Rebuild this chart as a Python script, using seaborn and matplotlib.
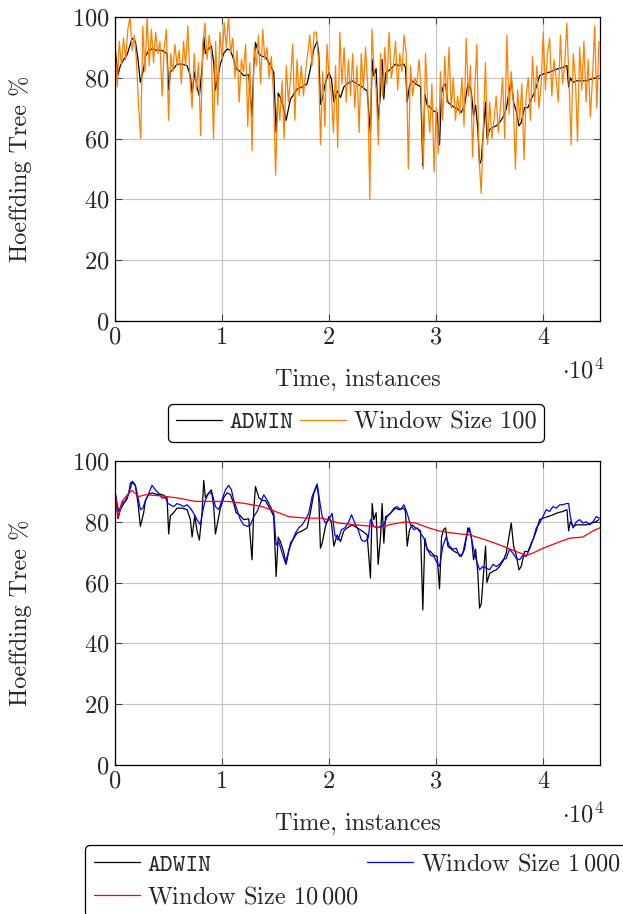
import numpy as np
import pandas as pd
import matplotlib
matplotlib.use("Agg")
import matplotlib.pyplot as plt
import seaborn as sns

# ADWIN accuracy (same curve in both panels)
adwin_t = [0, 280, 500, 810, 1120, 1430, 1590, 1900, 2150, 2370, 2680, 2835, 3150, 3460, 3925, 4390,
           4860, 5015, 5170, 5480, 5790, 6260, 6730, 7040, 7200, 7450, 7660, 7880, 8130, 8290, 8440,
           8750, 9000, 9220, 9380, 9630, 9840, 10160, 10470, 10780, 11090, 11310, 11710, 12020, 12490,
           12800, 12960, 13120, 13430, 13740, 14050, 14360, 14670, 14830, 15050, 15240, 15450, 15760,
           15980, 16390, 16700, 17010, 17480, 17940, 18250, 18570, 18880, 19030, 19190, 19350, 19660,
           19970, 20220, 20440, 20750, 21060, 21370, 21680, 22140, 22610, 23080, 23550, 23860, 24020,
           24170, 24390, 24580, 24800, 24950, 25110, 25270, 25570, 25890, 26200, 26510, 26980, 27130,
           27290, 27510, 27750, 28070, 28380, 28540, 28750, 28940, 29160, 29470, 29780, 30090, 30310,
           30500, 30680, 30870, 31090, 31400, 31710, 32020, 32340, 32650, 32960, 33120, 33270, 33490,
           33680, 33890, 34050, 34210, 34360, 34610, 34740, 34990, 35300, 35610, 35920, 36230, 36540,
           36790, 37010, 37230, 37480, 37730, 37940, 38250, 38570, 38880, 39100, 39350, 39660, 39970,
           40440, 40900, 41370, 41840, 42210, 42370, 42530, 42780, 43090, 43560, 44020, 44490, 44890,
           45200]
adwin_v = [90, 81, 84, 86, 87.5, 91, 93, 92, 86, 78.5, 83, 87, 89, 89.5, 89, 89,
           88, 76, 82, 83, 84.5, 84.5, 84, 80.7, 75, 82, 77, 74, 83, 93.6, 88,
           89.5, 90.5, 85, 76, 80.7, 84.5, 88, 89.5, 89, 86, 83, 82, 80.7, 81,
           67.5, 84, 91.6, 88, 87, 87, 85, 83, 81.7, 62, 75, 73.5, 70,
           66, 73, 74.6, 76.3, 77, 78, 83, 89.4, 92, 88, 71.3, 73, 78.5,
           81.7, 79.6, 72, 75.7, 73.5, 77, 78, 79, 78, 77, 75.7, 61.5, 86,
           80.7, 83, 66, 75, 86, 73, 81.7, 82.3, 83.4, 84.5, 84, 84.5, 83.4,
           72, 77.4, 79, 78, 77.4, 77, 51, 74.6, 71, 70.2, 69, 68.6, 58,
           75, 77.4, 78, 72, 71, 70.2, 69.7, 68.6, 71, 78, 77, 75.7, 67.5,
           71, 63, 51.6, 53, 60, 72, 60, 63, 63.7, 64.2, 65.3, 67, 69.7,
           75, 79.6, 72, 69, 64.2, 65.3, 70.2, 70.2, 73, 74.6, 77, 80.7, 81.2,
           81.7, 82.3, 83, 83.4, 84, 77, 80, 78.5, 79, 79, 79, 79.6, 80,
           80.7]

# window size 100 (one value every 200 instances)
w100_step = 200
w100_v = [90, 77, 92, 84, 93, 86, 96, 100, 89, 94,
          86, 71, 60, 97, 82, 100, 84, 96, 85, 95,
          88, 92, 74, 90, 96, 66, 88, 82, 91, 84,
          89, 78, 92, 84, 97, 80, 70, 88, 76, 85,
          61, 91, 98, 86, 94, 88, 60, 92, 71, 95,
          86, 98, 90, 100, 88, 93, 80, 89, 72, 86,
          82, 91, 64, 85, 56, 90, 84, 94, 78, 96,
          86, 90, 80, 87, 75, 48, 74, 66, 79, 60,
          84, 72, 80, 91, 66, 86, 74, 84, 74, 82,
          88, 94, 84, 95, 95, 86, 58, 82, 64, 91,
          80, 75, 62, 84, 57, 95, 78, 90, 72, 86,
          74, 88, 70, 84, 62, 88, 76, 90, 78, 40,
          96, 82, 76, 58, 88, 74, 90, 78, 95, 80,
          84, 92, 76, 88, 82, 94, 88, 50, 84, 74,
          80, 78, 86, 76, 50, 88, 72, 62, 78, 49,
          70, 55, 82, 66, 87, 72, 90, 70, 80, 66,
          74, 68, 80, 64, 93, 74, 84, 54, 76, 91,
          54, 42, 64, 85, 58, 72, 60, 66, 74, 62,
          70, 80, 60, 94, 68, 82, 72, 50, 76, 66,
          78, 53, 74, 80, 66, 87, 72, 84, 70, 78,
          95, 76, 88, 93, 74, 86, 80, 72, 94, 78,
          84, 98, 80, 58, 88, 80, 59, 90, 76, 92,
          72, 86, 67, 80, 97, 70, 92]
w100_t = [i * w100_step for i in range(len(w100_v))]

# window size 1000
w1000_t = [0, 340, 650, 970, 1280, 1430, 1650, 1900, 2150, 2370, 2590, 2830, 3150, 3460, 3770, 4080,
           4390, 4700, 4950, 5170, 5480, 5790, 6100, 6420, 6730, 7040, 7350, 7660, 7980, 8190, 8440,
           8750, 9070, 9380, 9690, 10000, 10310, 10620, 10870, 11090, 11400, 11710, 12020, 12340,
           12650, 12960, 13270, 13580, 13890, 14200, 14520, 14830, 15050, 15300, 15610, 15920, 16240,
           16540, 16850, 17160, 17470, 17790, 18100, 18410, 18660, 18880, 19100, 19350, 19660, 19970,
           20280, 20530, 20840, 21150, 21460, 21780, 22090, 22400, 22710, 23020, 23340, 23650, 23860,
           24170, 24480, 24800, 25110, 25420, 25740, 26050, 26360, 26670, 26980, 27290, 27600, 27920,
           28230, 28540, 28850, 29160, 29470, 29780, 30090, 30310, 30620, 30930, 31240, 31560, 31870,
           32180, 32490, 32800, 33110, 33430, 33740, 34050, 34360, 34670, 34990, 35300, 35610, 35920,
           36230, 36540, 36850, 37160, 37480, 37790, 38100, 38410, 38720, 39030, 39350, 39660, 39970,
           40280, 40590, 40900, 41220, 41530, 41840, 42150, 42370, 42530, 42780, 43090, 43400, 43710,
           44020, 44330, 44640, 44950, 45260]
w1000_v = [90, 83.4, 86, 87, 89.4, 92.7, 93.3, 92, 88, 84, 84.5, 86.7, 89.4, 92, 90.5, 89.4,
           87.8, 88, 86, 85.6, 85, 86, 85.6, 85, 85.6, 84.5, 82.8, 80.7, 79, 83.4, 87.2,
           89.4, 89.4, 85, 84, 87.2, 90.5, 92, 90.5, 87.2, 84, 80.7, 79, 78.5,
           79, 81.7, 83.4, 86, 88.9, 87.2, 85, 82.8, 72.4, 73.5, 69.7, 66.4, 70.8,
           73.5, 76.3, 78, 79, 80.7, 82.8, 88.3, 90.5, 92.5, 87.2, 81.7, 79.6, 80.7,
           82.8, 75.7, 74, 77.4, 78, 79.6, 82.3, 79.6, 77.4, 74, 73.5, 74.6, 80.7,
           78.5, 78, 78.5, 79, 81.7, 82.8, 84.5, 85, 84, 85.6, 82.8, 79, 77.4,
           78, 76.3, 74.6, 71, 69, 68.6, 66.4, 65.3, 72, 75, 72, 71, 71.3,
           68.6, 69.7, 75, 78, 72, 67.5, 64.2, 65.3, 64.8, 64.2, 66, 65.3, 66,
           67.5, 68, 71, 69.7, 68, 67.5, 69, 68.6, 71, 74, 78, 79.6, 81.7,
           84, 83.4, 85, 84.5, 85.6, 85.6, 86, 86, 81.7, 78, 80, 80.7, 79.6,
           80, 79, 80, 81.7, 81.2]

# window size 10000
w10000_t = [0, 300, 650, 1280, 1590, 2210, 2830, 4390, 5950, 7510, 9070, 10620, 12180, 13740,
            14980, 16240, 17790, 19350, 20900, 22460, 24020, 24950, 25570, 27130, 28070, 29310,
            30250, 31560, 33120, 34670, 36230, 37480, 38410, 39030, 39970, 41220, 42460, 43710,
            44640, 45260]
w10000_v = [90, 81.5, 86.7, 89.4, 90.3, 88.3, 88.9, 88.5, 87.8, 86.7, 86.7, 86.7, 86, 85,
            83.4, 81.7, 81.2, 81.2, 79.6, 79, 78.5, 78, 79, 80, 79.6, 78,
            77, 76.3, 75.7, 74, 72, 70.2, 69, 69.7, 71.3, 73, 74.6, 75,
            77, 78]

xticks = [0, 10000, 20000, 30000, 40000]
xtick_labels = ["0", "1", "2", "3", "4"]
yticks = [0, 20, 40, 60, 80, 100]

sns.set_style("ticks")
plt.rcParams["font.family"] = ["cmr10", "DejaVu Serif"]
plt.rcParams["mathtext.fontset"] = "cm"
plt.rcParams["axes.unicode_minus"] = False
plt.rcParams["axes.formatter.use_mathtext"] = True

FS = 17.5

fig = plt.figure(figsize=(6.23, 9.14), dpi=100)
ax1 = fig.add_axes([115 / 623, 1 - 321 / 914, 485 / 623, 304 / 914])
ax2 = fig.add_axes([115 / 623, 1 - 765 / 914, 485 / 623, 304 / 914])


def draw(ax, series):
    for t, v, name, col in series:
        df = pd.DataFrame({"t": t, "v": v})
        sns.lineplot(data=df, x="t", y="v", ax=ax, color=col, lw=0.9, label=name,
                     estimator=None, sort=False)
    ax.get_legend().remove()
    ax.set_xlim(0, 45300)
    ax.set_ylim(0, 100)
    ax.set_xticks(xticks)
    ax.set_xticklabels(xtick_labels)
    ax.set_yticks(yticks)
    ax.grid(True, color="#c4c4c4", lw=0.8)
    ax.set_axisbelow(True)
    ax.tick_params(direction="in", top=True, right=True, length=5, width=0.8,
                   labelsize=FS, pad=4, color="#444444")
    for s in ax.spines.values():
        s.set_color("black")
        s.set_linewidth(0.9)
    ax.set_xlabel("Time, instances", fontsize=FS)
    ax.set_ylabel("Hoeffding Tree %", fontsize=FS)
    ax.xaxis.set_label_coords(0.5, -0.192)
    ax.yaxis.set_label_coords(-0.195, 0.5)
    ax.yaxis.label.set_va("center")
    ax.xaxis.label.set_va("center")
    ax.text(0.965, -0.165, r"$\cdot 10^{4}$", transform=ax.transAxes, fontsize=FS,
            ha="center", va="center")


draw(ax1, [(adwin_t, adwin_v, "ADWIN", "black"),
           (w100_t, w100_v, "Window Size 100", "#ff8000")])
draw(ax2, [(adwin_t, adwin_v, "ADWIN", "black"),
           (w1000_t, w1000_v, r"Window Size $1\,000$", "#0000ff"),
           (w10000_t, w10000_v, r"Window Size $10\,000$", "#ff0000")])

h1, l1 = ax1.get_legend_handles_labels()
leg1 = fig.legend(h1, l1, loc="upper center", bbox_to_anchor=(356 / 623, 1 - 404 / 914),
                  ncol=2, fontsize=FS, frameon=True, fancybox=True, edgecolor="black",
                  framealpha=1, handlelength=1.9, handletextpad=0.3, columnspacing=0.3,
                  borderpad=0.3, borderaxespad=0)
leg1.get_frame().set_linewidth(0.9)
leg1.get_texts()[0].set_fontfamily("cmtt10")

h2, l2 = ax2.get_legend_handles_labels()
order = [0, 2, 1]
leg2 = fig.legend([h2[i] for i in order], [l2[i] for i in order], loc="upper left",
                  bbox_to_anchor=(85 / 623, 1 - 845 / 914), ncol=2, fontsize=FS,
                  frameon=True, fancybox=True, edgecolor="black", framealpha=1,
                  handlelength=1.9, handletextpad=0.3, columnspacing=0.35,
                  borderpad=0.35, labelspacing=0.4, borderaxespad=0)
leg2.get_frame().set_linewidth(0.9)
leg2.get_texts()[0].set_fontfamily("cmtt10")

fig.savefig("out.png", dpi=100)
